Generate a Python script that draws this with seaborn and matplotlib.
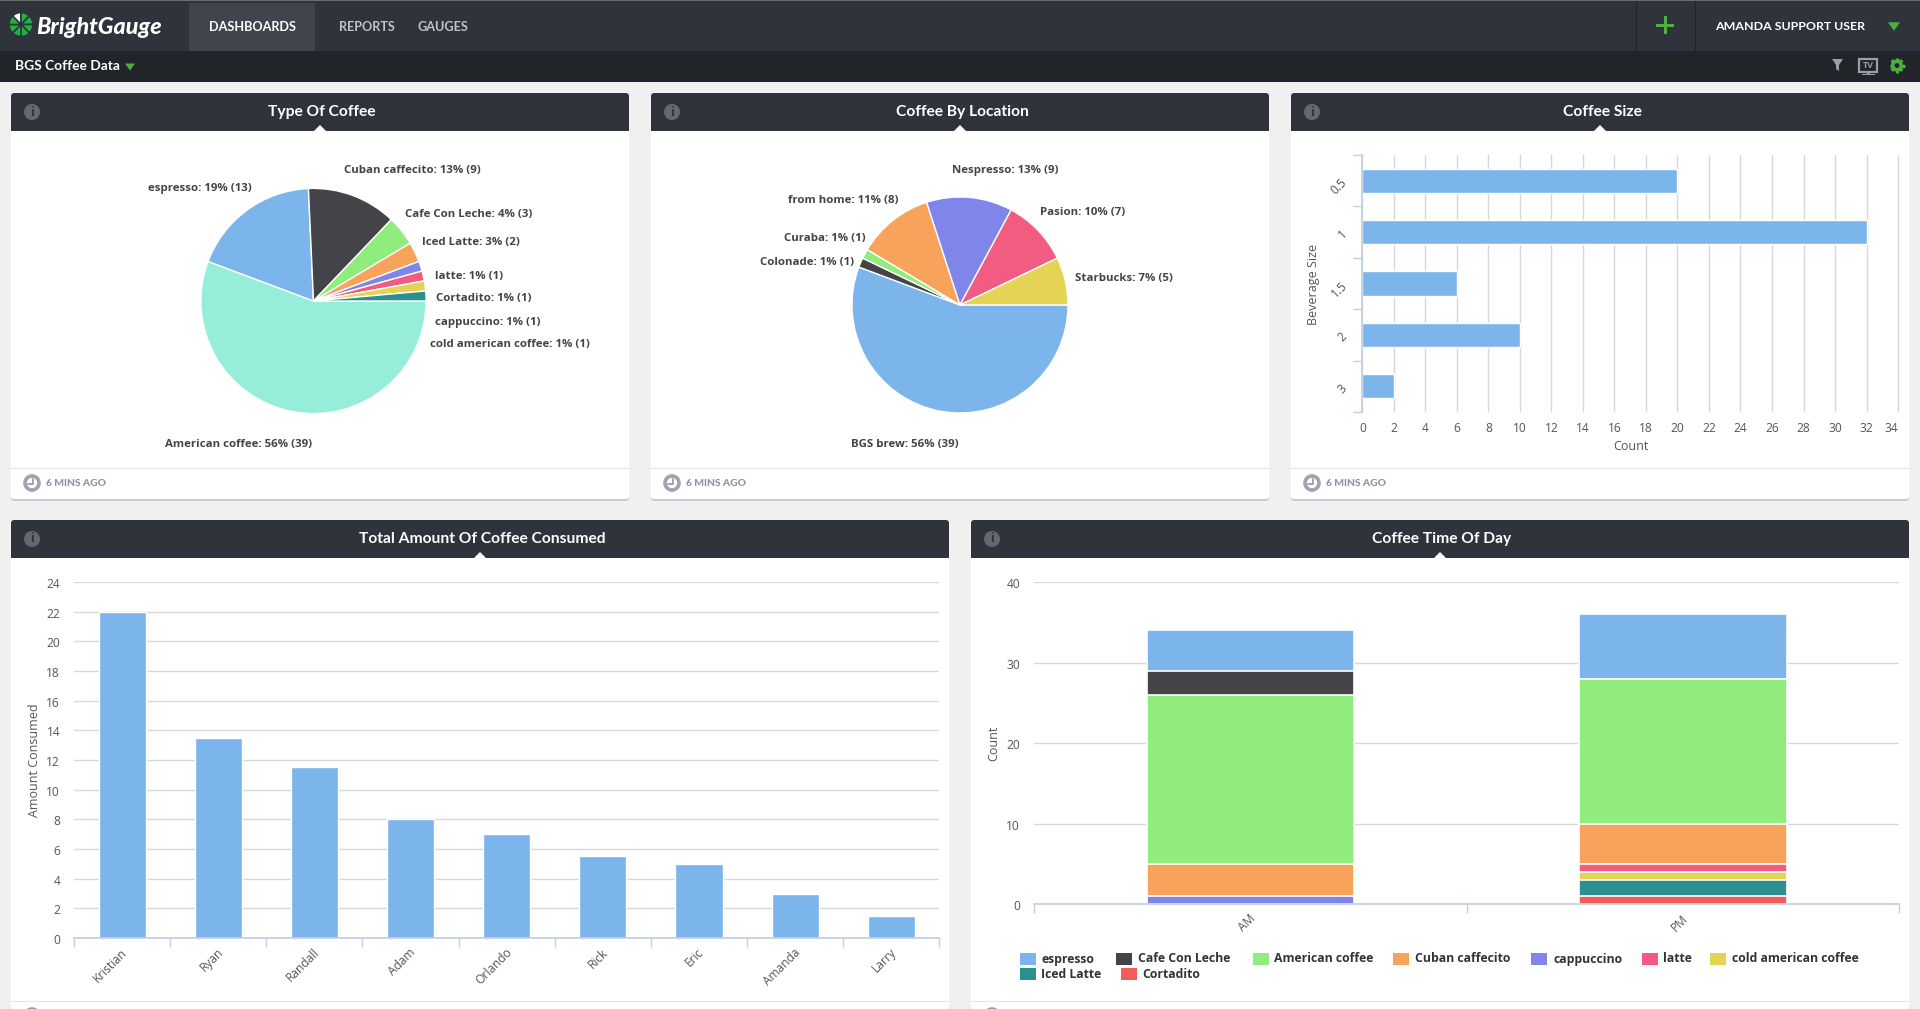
import math
import matplotlib
matplotlib.use("Agg")
import matplotlib.pyplot as plt
import seaborn as sns
from matplotlib.patches import Rectangle, FancyBboxPatch, Circle, Polygon, Wedge
from matplotlib.transforms import ScaledTranslation

W, H = 1920, 1009

# data
type_names = ["American coffee", "espresso", "Cuban caffecito", "Cafe Con Leche", "Iced Latte",
              "latte", "Cortadito", "cappuccino", "cold american coffee"]
type_counts = [39, 13, 9, 3, 2, 1, 1, 1, 1]
type_pcts = [56, 19, 13, 4, 3, 1, 1, 1, 1]

location_names = ["BGS brew", "Colonade", "Curaba", "from home", "Nespresso", "Pasion", "Starbucks"]
location_counts = [39, 1, 1, 8, 9, 7, 5]
location_pcts = [56, 1, 1, 11, 13, 10, 7]

size_names = ["0.5", "1", "1.5", "2", "3"]
size_counts = [20, 32, 6, 10, 2]

people = ["Kristian", "Ryan", "Randall", "Adam", "Orlando", "Rick", "Eric", "Amanda", "Larry"]
amounts = [22, 13.5, 11.5, 8, 7, 5.5, 5, 3, 1.5]

times = ["AM", "PM"]
stack_names = ["espresso", "Cafe Con Leche", "American coffee", "Cuban caffecito", "cappuccino",
               "latte", "cold american coffee", "Iced Latte", "Cortadito"]
stack_am = [5, 3, 21, 4, 1, 0, 0, 0, 0]
stack_pm = [8, 0, 18, 5, 0, 1, 1, 2, 1]

# colours
BLUE, DARK, GREEN, ORANGE, VIOLET = "#7cb5ec", "#434348", "#90ed7d", "#f7a35c", "#8085e9"
PINK, YELLOW, TEAL, RED, MINT = "#f15c80", "#e4d354", "#2b908f", "#f45b5b", "#96eeda"
type_colors = [MINT, BLUE, DARK, GREEN, ORANGE, VIOLET, PINK, YELLOW, TEAL]
location_colors = [BLUE, DARK, GREEN, ORANGE, VIOLET, PINK, YELLOW]
stack_colors = [BLUE, DARK, GREEN, ORANGE, VIOLET, PINK, YELLOW, TEAL, RED]

NAV = "#2f333c"
SUBNAV = "#212429"
GRID = "#d8d8d8"
AXIS = "#c0d0e0"
TEXT = "#555555"
LIME = "#4caf3f"

# where the pie labels sit, pixels
type_label_pos = [(165, 445), (148, 188), (344, 170), (405, 215), (422, 242),
                  (435, 276), (436, 299), (435, 322), (430, 345)]
location_label_pos = [(851, 445), (760, 262), (784, 239), (788, 200), (952, 171), (1040, 213), (1075, 278)]
legend_swatch_x = [1020, 1116, 1253, 1393, 1531, 1642, 1710, 1020, 1121]
legend_text_x = [1041, 1138, 1274, 1415, 1553, 1663, 1732, 1041, 1142]
legend_y = [959, 959, 959, 959, 959, 959, 959, 974, 974]

sns.set_theme(style="white")
plt.rcParams["font.family"] = ["Open Sans", "DejaVu Sans"]
plt.rcParams["axes.facecolor"] = "none"


def pt(px):
    return px * 0.72


fig = plt.figure(figsize=(W / 100, H / 100), dpi=100, facecolor="#f0f0f0")

bg = fig.add_axes([0, 0, 1, 1])
bg.set_xlim(0, W)
bg.set_ylim(H, 0)
bg.axis("off")


def px_axes(x0, y0, x1, y1):
    return fig.add_axes([x0 / W, 1 - y1 / H, (x1 - x0) / W, (y1 - y0) / H])


def rect(x0, y0, x1, y1, color, z=1):
    bg.add_patch(Rectangle((x0, y0), x1 - x0, y1 - y0, facecolor=color, edgecolor="none", zorder=z))


def label(x, y, s, size=12, color=TEXT, weight="normal", ha="left", **kw):
    bg.text(x, y, s, fontsize=pt(size), color=color, fontweight=weight, ha=ha, va="center", zorder=6, **kw)


def card(x0, y0, x1, y1, header_bottom, footer_y, title):
    bg.add_patch(FancyBboxPatch((x0, y0 + 2), x1 - x0, y1 - y0, boxstyle="round,pad=0,rounding_size=3",
                                facecolor="#c9ccd8", edgecolor="none", zorder=1))
    bg.add_patch(FancyBboxPatch((x0, y0), x1 - x0, y1 - y0, boxstyle="round,pad=0,rounding_size=3",
                                facecolor="white", edgecolor="none", zorder=2))
    bg.add_patch(FancyBboxPatch((x0, y0), x1 - x0, header_bottom - y0, boxstyle="round,pad=0,rounding_size=3",
                                facecolor=NAV, edgecolor="none", zorder=3))
    rect(x0, header_bottom - 6, x1, header_bottom, NAV, 3)
    mid = (x0 + x1) / 2
    bg.add_patch(Polygon([(mid - 6, header_bottom), (mid + 6, header_bottom), (mid, header_bottom - 6)],
                         facecolor="white", edgecolor="none", zorder=4))
    bg.text(mid + 2, (y0 + header_bottom) / 2, title, fontsize=pt(15.6), color="white", fontweight="bold",
            family="Lato", ha="center", va="center", zorder=6)
    # info icon
    iy = (y0 + header_bottom) / 2
    bg.add_patch(Circle((x0 + 21, iy), 8, facecolor="#636874", edgecolor="none", zorder=5))
    bg.text(x0 + 21, iy, "i", fontsize=pt(13), color=NAV, fontweight="bold", ha="center", va="center", zorder=6)
    # footer
    rect(x0, footer_y - 0.5, x1, footer_y + 1, "#e2e4e7", 4)
    cy = footer_y + 15
    bg.add_patch(Circle((x0 + 21, cy), 7, facecolor="white", edgecolor="#a0a3ae", linewidth=2.6, zorder=5))
    bg.plot([x0 + 21.5, x0 + 21.5, x0 + 17], [cy - 4.5, cy + 1, cy + 1], color="#a0a3ae", lw=1.4, zorder=6)
    if cy < H - 5:
        bg.text(x0 + 35, cy + 0.5, "6 MINS AGO", fontsize=pt(10.3), color="#8d93a1", fontweight=900,
                family="Lato", ha="left", va="center", zorder=6)


# nav bars
rect(0, 0, W, 1, "#6a6a6a", 1)
rect(0, 1, W, 51, NAV, 1)
rect(0, 51, W, 82, SUBNAV, 1)
rect(189, 3, 315, 51, "#41444d", 2)
rect(1636, 1, 1637, 51, "#1f2227", 2)
rect(1695, 1, 1696, 51, "#1f2227", 2)

# logo: eight slices, the one at the upper left is white
for i in range(8):
    a = i * 45 - 135
    bg.add_patch(Wedge((21, 24.5), 12, a, a + 45, facecolor="white" if i == 0 else "#1fb141",
                       edgecolor=NAV, linewidth=1.2, zorder=3))
bg.add_patch(Circle((21, 24.5), 2, facecolor=NAV, edgecolor="none", zorder=4))
bg.text(36, 27, "BrightGauge", fontsize=pt(23.2), color="white", fontweight=900, fontstyle="italic",
        family="Lato", ha="left", va="center", zorder=6)


def nav_text(x, y, s, color="white", ha="left", size=12.6):
    bg.text(x, y, s, fontsize=pt(size), color=color, fontweight="bold", family="Lato", ha=ha, va="center", zorder=6)


nav_text(252, 27, "DASHBOARDS", ha="center")
nav_text(339, 27, "REPORTS", "#c0c2c6")
nav_text(417, 27, "GAUGES", "#c0c2c6")
nav_text(15, 66.5, "BGS Coffee Data", size=13.8)
nav_text(1715.5, 27, "AMANDA SUPPORT USER", size=12.4)
for tx, ty, r in [(130, 67, 5), (1894, 26.5, 6)]:
    bg.add_patch(Polygon([(tx - r, ty - r * 0.7), (tx + r, ty - r * 0.7), (tx, ty + r * 0.7)],
                         facecolor=LIME, edgecolor="none", zorder=5))
# plus
rect(1656, 24, 1674, 26.5, LIME, 5)
rect(1664, 16, 1666.5, 34, LIME, 5)
# funnel
bg.add_patch(Polygon([(1832, 59), (1843, 59), (1839, 65), (1839, 71), (1836, 69), (1836, 65)],
                     facecolor="#9a9ea6", edgecolor="none", zorder=5))
# tv
bg.add_patch(Rectangle((1859, 59), 18, 13, facecolor="none", edgecolor="#9a9ea6", linewidth=1.6, zorder=5))
rect(1862, 73.5, 1875, 75, "#9a9ea6", 5)
rect(1867, 72, 1870, 74, "#9a9ea6", 5)
bg.text(1868, 65, "TV", fontsize=pt(9), color="#9a9ea6", fontweight="bold", ha="center", va="center", zorder=6)
# gear
bg.add_patch(Circle((1897, 65.5), 4.3, facecolor=SUBNAV, edgecolor=LIME, linewidth=2.6, zorder=5))
for i in range(8):
    ang = i * math.pi / 4
    bg.plot([1897 + 4.5 * math.cos(ang), 1897 + 7.5 * math.cos(ang)],
            [65.5 + 4.5 * math.sin(ang), 65.5 + 7.5 * math.sin(ang)],
            color=LIME, lw=2.4, solid_capstyle="butt", zorder=5)

# cards
card(11, 93, 629, 499, 131, 468, "Type Of Coffee")
card(651, 93, 1269, 499, 131, 468, "Coffee By Location")
card(1291, 93, 1909, 499, 131, 468, "Coffee Size")
card(11, 520, 949, 1020, 558, 1001, "Total Amount Of Coffee Consumed")
card(971, 520, 1909, 1020, 558, 1001, "Coffee Time Of Day")


def draw_pie(cx, cy, r, counts, colors):
    ax = px_axes(cx - r, cy - r, cx + r, cy + r)
    ax.pie(counts, colors=colors, startangle=0, counterclock=False, radius=1,
           wedgeprops={"edgecolor": "white", "linewidth": 1})
    ax.set_xlim(-1, 1)
    ax.set_ylim(-1, 1)
    return ax


draw_pie(313.5, 301, 112.6, type_counts, type_colors)
for name, pct, n, (x, y) in zip(type_names, type_pcts, type_counts, type_label_pos):
    label(x, y, f"{name}: {pct}% ({n})", size=11.5, color="#444444", weight="bold")

draw_pie(960, 305, 108, location_counts, location_colors)
for name, pct, n, (x, y) in zip(location_names, location_pcts, location_counts, location_label_pos):
    label(x, y, f"{name}: {pct}% ({n})", size=11.5, color="#444444", weight="bold")

# coffee size
ax = px_axes(1362.4, 155, 1899.6, 412)
sns.barplot(x=size_counts, y=size_names, color=BLUE, saturation=1, width=0.467, orient="h",
            edgecolor="white", linewidth=1, ax=ax)
ax.set_xlim(0, 34.1)
ax.set_ylim(4.5, -0.5)
ax.set_xticks(range(0, 35, 2))
ax.set_yticks([i - 0.5 for i in range(6)], [""] * 6)
ax.set_yticks(range(5), size_names, minor=True)
ax.set_xlabel("")
ax.set_ylabel("")
ax.grid(axis="x", color=GRID, linewidth=1)
ax.set_axisbelow(True)
sns.despine(ax=ax, top=True, right=True, bottom=True)
ax.spines["left"].set_color(AXIS)
ax.tick_params(axis="x", length=0, pad=7, labelsize=pt(12), labelcolor=TEXT)
ax.tick_params(axis="y", which="major", length=9.4 * 0.72, color=AXIS, width=1, left=True)
ax.tick_params(axis="y", which="minor", length=0, pad=12.5, labelsize=pt(12), labelcolor=TEXT)
for t in ax.get_yticklabels(minor=True):
    t.set(rotation=45, ha="right", va="center", rotation_mode="anchor")
ax.get_xticklabels()[-1].set_ha("right")
label(1631, 446, "Count", size=12.5, ha="center")
label(1313.6, 284, "Beverage Size", size=12.5, ha="center", rotation=90)


def category_axis(ax, names, top):
    ax.set_xlim(-0.5, len(names) - 0.5)
    ax.set_ylim(0, top)
    ax.set_xticks([i - 0.5 for i in range(len(names) + 1)], [""] * (len(names) + 1))
    ax.set_xticks(range(len(names)), names, minor=True)
    ax.set_xlabel("")
    ax.set_ylabel("")
    ax.grid(axis="y", color=GRID, linewidth=1)
    ax.set_axisbelow(True)
    sns.despine(ax=ax, left=True, top=True, right=True)
    ax.spines["bottom"].set_color(AXIS)
    ax.tick_params(axis="y", length=0, pad=10, labelsize=pt(12), labelcolor=TEXT)
    ax.tick_params(axis="x", which="major", length=9 * 0.72, color=AXIS, width=1, bottom=True)
    ax.tick_params(axis="x", which="minor", length=0, pad=9, labelsize=pt(12), labelcolor=TEXT)
    for t in ax.get_xticklabels(minor=True):
        t.set(rotation=45, ha="right", va="center", rotation_mode="anchor")
        t.set_transform(t.get_transform() + ScaledTranslation(3 / 100, 0, fig.dpi_scale_trans))
    for t in ax.get_yticklabels():
        t.set_transform(t.get_transform() + ScaledTranslation(0, -1 / 100, fig.dpi_scale_trans))


# total amount
ax = px_axes(74, 582, 939.4, 938)
sns.barplot(x=people, y=amounts, color=BLUE, saturation=1, width=0.49,
            edgecolor="white", linewidth=1, ax=ax)
ax.set_yticks(range(0, 25, 2))
category_axis(ax, people, 24)
label(34, 760, "Amount Consumed", size=12.5, ha="center", rotation=90)

# time of day, drawn tallest first so each colour shows as its own band
ax = px_axes(1034, 582, 1899.4, 904.3)
for i, color in enumerate(stack_colors):
    heights = [sum(stack_am[i:]), sum(stack_pm[i:])]
    sns.barplot(x=times, y=heights, color=color, saturation=1, width=0.48,
                edgecolor="white", linewidth=1.2, ax=ax)
ax.set_yticks(range(0, 41, 10))
category_axis(ax, times, 40)
label(994, 743, "Count", size=12.5, ha="center", rotation=90)

for name, color, sx, tx, y in zip(stack_names, stack_colors, legend_swatch_x, legend_text_x, legend_y):
    rect(sx, y - 6, sx + 16, y + 6, color, 5)
    label(tx, y, name, size=12.3, color="#333333", weight="bold")

fig.savefig("out.png", dpi=100, facecolor=fig.get_facecolor())
